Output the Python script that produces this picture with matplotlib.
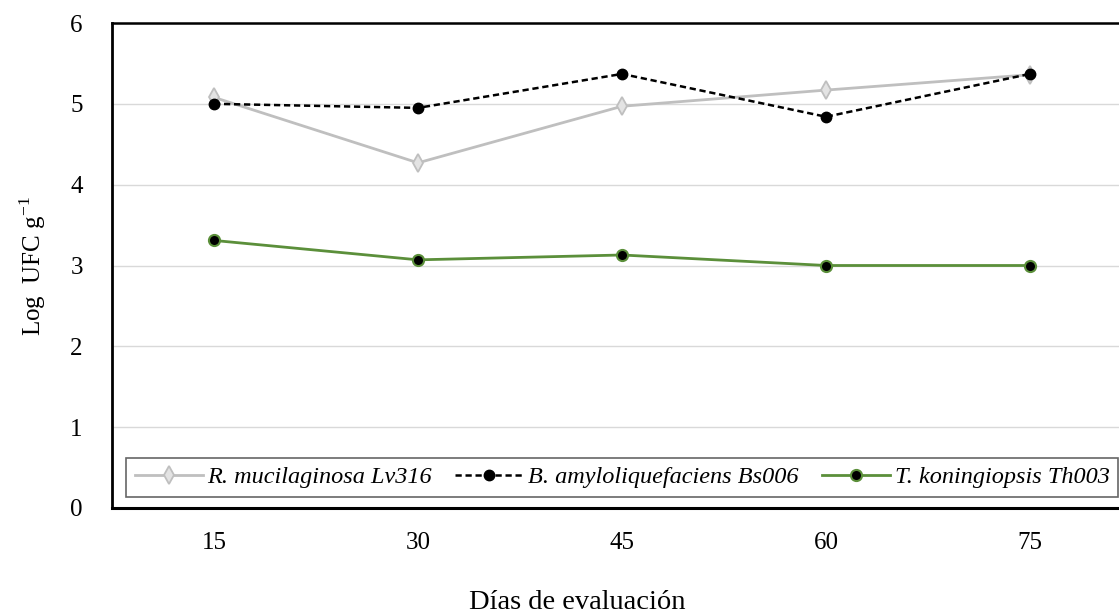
import matplotlib
matplotlib.use("Agg")
import matplotlib.pyplot as plt
import numpy as np

plt.rcParams['font.family'] = ['Liberation Serif', 'DejaVu Serif']

dias = ['15', '30', '45', '60', '75']
rhodo = [5.08, 4.27, 4.97, 5.17, 5.36]
bacillus = [5.00, 4.95, 5.37, 4.84, 5.37]
tricho = [3.31, 3.07, 3.13, 3.00, 3.00]

fig = plt.figure(figsize=(11.19, 6.14), dpi=100)
# el recuadro se sale un poco por la derecha, como en la original
ax = fig.add_axes([112 / 1119, 106 / 614, 1020 / 1119, 485 / 614])

x = np.arange(len(dias))
ax.plot(x, rhodo, color='#BFBFBF', linewidth=2, marker='d', markersize=9,
        markerfacecolor='#E3E3E3', markeredgecolor='#BFBFBF', markeredgewidth=1.3,
        label='R. mucilaginosa Lv316', zorder=3)
ax.plot(x, bacillus, color='black', linewidth=1.8, linestyle=(0, (2.5, 1.5)),
        marker='o', markersize=7.5, markerfacecolor='black', markeredgecolor='black',
        label='B. amyloliquefaciens Bs006', zorder=4)
ax.plot(x, tricho, color='#5B8F3A', linewidth=2, marker='o', markersize=8,
        markerfacecolor='black', markeredgecolor='#5B8F3A', markeredgewidth=1.5,
        label='T. koningiopsis Th003', zorder=3)

ax.set_xlim(-0.5, 4.5)
ax.set_ylim(0, 6)
ax.set_xticks(x)
ax.set_xticklabels(dias)
ax.set_yticks(range(0, 7))
ax.tick_params(axis='both', length=0, labelsize=18)
ax.tick_params(axis='y', pad=21)
ax.tick_params(axis='x', pad=17)
ax.grid(axis='y', color='#D9D9D9', linewidth=1)
ax.set_axisbelow(True)

for s in ax.spines.values():
    s.set_color('black')
    s.set_linewidth(1.8)
ax.spines['left'].set_linewidth(2)
ax.spines['bottom'].set_linewidth(2.2)

ax.set_ylabel('Log  UFC g$^{\\mathregular{-1}}$', fontsize=18)
ax.yaxis.set_label_coords(-64 / 1020, 0.5)
fig.text(577 / 1119, 5 / 614, 'Días de evaluación', fontsize=20.5,
         ha='center', va='baseline')

leg = ax.legend(loc='lower left', ncol=3,
                prop={'style': 'italic', 'size': 17.5},
                bbox_to_anchor=(126 / 1119, 117 / 614),
                bbox_transform=fig.transFigure, borderaxespad=0,
                frameon=True, fancybox=False, borderpad=0.35,
                handlelength=2.8, handletextpad=0.2, columnspacing=0.95)
leg.get_frame().set_edgecolor('#404040')
leg.get_frame().set_linewidth(1.2)

fig.savefig('out.png', dpi=100)
